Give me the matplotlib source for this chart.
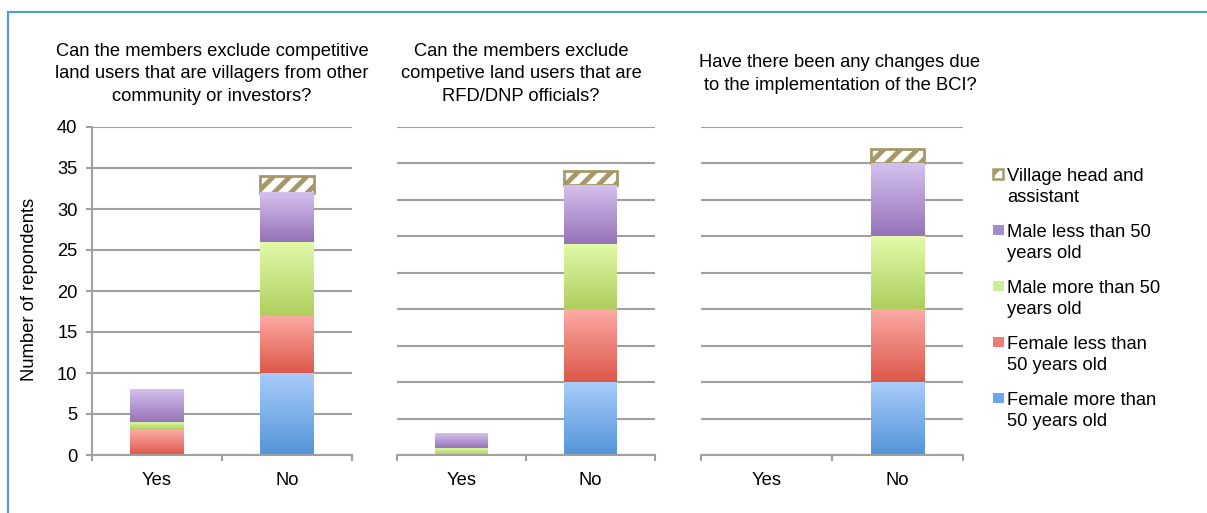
import numpy as np
import matplotlib
matplotlib.use("Agg")
import matplotlib.pyplot as plt
from matplotlib.patches import Rectangle
from matplotlib.colors import to_rgb

plt.rcParams["font.family"] = ["Liberation Sans", "DejaVu Sans"]
plt.rcParams["hatch.linewidth"] = 3.5

# ---- data -------------------------------------------------------------
answers = ["Yes", "No"]
groups = [
    "Female more than\n50 years old",
    "Female less than\n50 years old",
    "Male more than 50\nyears old",
    "Male less than 50\nyears old",
    "Village head and\nassistant",
]
titles = [
    "Can the members exclude competitive\nland users that are villagers from other\ncommunity or investors?",
    "Can the members exclude\ncompetive land users that are\nRFD/DNP officials?",
    "Have there been any changes due\nto the implementation of the BCI?",
]
# counts per group (rows) for [Yes, No] in each question
q1_counts = [[0, 10], [3, 7], [1, 9], [4, 6], [0, 2]]
q2_counts = [[0, 10], [0, 10], [1, 9], [2, 8], [0, 2]]
q3_counts = [[0, 10], [0, 10], [0, 10], [0, 10], [0, 2]]
panel_counts = [q1_counts, q2_counts, q3_counts]
y_max = [40, 45, 45]
ylabel = "Number of repondents"

# ---- styles -----------------------------------------------------------
grad_bottom = ["#5495d9", "#dc5849", "#aecf5e", "#9473b7"]
grad_top = ["#a8ccfb", "#fdaaa5", "#e2faaa", "#d5c1f0"]
legend_col = ["#6aa7e8", "#ee7d76", "#cdee98", "#a48bcb"]
tan = "#a5996a"
grid_col = "#a0a0a0"
FS = 13.2

W, H = 1207, 513
fig = plt.figure(figsize=(W / 100, H / 100), dpi=100)


def fx(px):
    return px / W


def fy(py):
    return (H - py) / H


# outer frame of the chart area
fig.add_artist(Rectangle((fx(8), -0.1), 1.2, fy(12) + 0.1,
                         transform=fig.transFigure, fill=False,
                         edgecolor="#5b9bd5", linewidth=1.6))


def px_axes(left, right, top, bottom):
    return fig.add_axes([fx(left), fy(bottom), (right - left) / W,
                         (bottom - top) / H])


def shade(ax, patch, c_bot, c_top):
    x, y = patch.get_x(), patch.get_y()
    w, h = patch.get_width(), patch.get_height()
    if h <= 0:
        return
    t = np.linspace(0, 1, 128)[:, None, None]
    img = (1 - t) * np.array(to_rgb(c_bot)) + t * np.array(to_rgb(c_top))
    ax.imshow(img, extent=[x, x + w, y, y + h], origin="lower",
              aspect="auto", interpolation="bilinear",
              zorder=patch.get_zorder() + 0.1)


axes_px = [(92, 352), (397, 655), (701, 963)]
title_x = [212, 521, 840]
xs = np.arange(len(answers))

for i, (ax_lr, counts) in enumerate(zip(axes_px, panel_counts)):
    ax = px_axes(ax_lr[0], ax_lr[1], 127, 455)
    bottom = np.zeros(len(answers))
    for g, row in enumerate(counts):
        vals = np.array(row, dtype=float)
        if g < 4:
            bars = ax.bar(xs, vals, 0.41, bottom=bottom, color=grad_bottom[g],
                          linewidth=0, zorder=3)
            for p in bars.patches:
                shade(ax, p, grad_bottom[g], grad_top[g])
        else:
            bars = ax.bar(xs, vals, 0.41, bottom=bottom, facecolor="white",
                          edgecolor=tan, linewidth=2.0, hatch="//", zorder=3)
        for p in bars.patches:
            if p.get_height() <= 0:
                p.set_visible(False)
        bottom += vals

    ax.set_xlim(-0.5, len(answers) - 0.5)
    ax.set_ylim(0, y_max[i])
    ax.set_yticks(np.arange(0, y_max[i] + 1, 5))
    ax.yaxis.grid(True, color=grid_col, linewidth=1.5)
    ax.set_axisbelow(True)

    for s in ["top", "right"]:
        ax.spines[s].set_visible(False)
    ax.spines["bottom"].set_color(grid_col)
    ax.spines["bottom"].set_linewidth(1.5)
    ax.spines["bottom"].set_zorder(5)

    ax.set_xticks(xs)
    ax.set_xticklabels(answers, fontsize=FS)
    ax.tick_params(axis="x", which="major", length=0, pad=12)
    ax.set_xticks(np.arange(-0.5, len(answers)), minor=True)
    ax.tick_params(axis="x", which="minor", length=4, width=1.5,
                   color=grid_col, direction="out")

    if i == 0:
        ax.spines["left"].set_color(grid_col)
        ax.spines["left"].set_linewidth(1.5)
        ax.tick_params(axis="y", length=4.5, width=1.5, color=grid_col,
                       labelsize=FS, pad=6)
    else:
        ax.spines["left"].set_visible(False)
        ax.tick_params(axis="y", length=0, labelleft=False)

    fig.text(fx(title_x[i]), fy(74), titles[i], ha="center",
             va="center", ma="center", fontsize=FS, linespacing=1.4)

fig.text(fx(30), fy(289), ylabel, rotation=90, ha="center",
         va="center", fontsize=FS)

# legend, top entry first: swatch beside the first line of each label
order = [4, 3, 2, 1, 0]
for k, g in enumerate(order):
    y_line = 174 + 56 * k
    if g == 4:
        sw = Rectangle((fx(993), fy(y_line + 5)), 10 / W, 10 / H,
                       transform=fig.transFigure, facecolor="white",
                       edgecolor=tan, linewidth=1.8, hatch="/")
    else:
        sw = Rectangle((fx(993), fy(y_line + 5)), 11 / W, 10 / H,
                       transform=fig.transFigure, facecolor=legend_col[g],
                       edgecolor="none")
    fig.add_artist(sw)
    fig.text(fx(1007), fy(y_line - 6), groups[g], ha="left", va="top",
             fontsize=FS, linespacing=1.3)

fig.savefig("out.png", dpi=100, facecolor="white")
